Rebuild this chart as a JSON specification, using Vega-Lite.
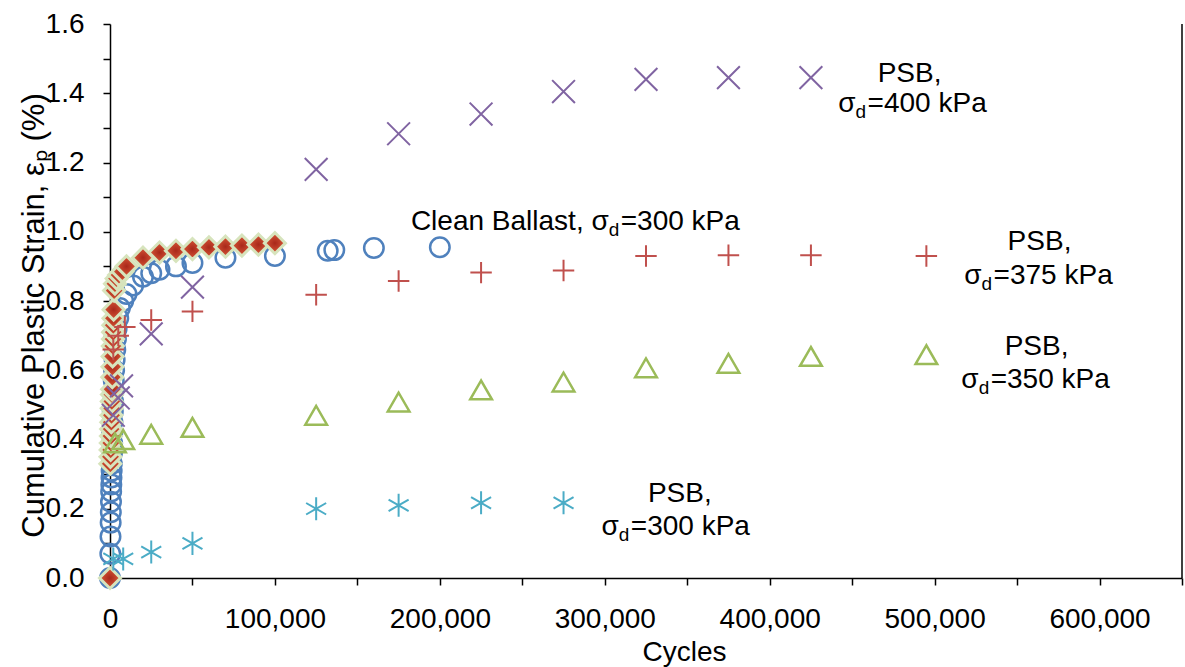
{
  "$schema": "https://vega.github.io/schema/vega-lite/v6.json",
  "width": 1072,
  "height": 554,
  "autosize": {"type": "none"},
  "padding": {"left": 110, "top": 24, "right": 3, "bottom": 89},
  "background": "white",
  "config": {
    "view": {"stroke": null},
    "font": "Liberation Sans",
    "axis": {"grid": false, "domainColor": "black", "tickColor": "black", "labelColor": "black", "titleColor": "black", "domainWidth": 1.5, "tickWidth": 1.5, "labelFont": "Liberation Sans", "titleFont": "Liberation Sans", "labelFontSize": 28, "titleFontSize": 28, "titleFontWeight": "normal"}
  },
  "datasets": {
    "pts": [
      {"s": "CB", "x": 0, "y": 0}, {"s": "CB", "x": 200, "y": 0.07}, {"s": "CB", "x": 300, "y": 0.12}, {"s": "CB", "x": 400, "y": 0.16}, {"s": "CB", "x": 500, "y": 0.19}, {"s": "CB", "x": 600, "y": 0.22}, {"s": "CB", "x": 700, "y": 0.25}, {"s": "CB", "x": 800, "y": 0.27}, {"s": "CB", "x": 900, "y": 0.29}, {"s": "CB", "x": 1000, "y": 0.31}, {"s": "CB", "x": 1100, "y": 0.33}, {"s": "CB", "x": 1200, "y": 0.36}, {"s": "CB", "x": 1300, "y": 0.39}, {"s": "CB", "x": 1400, "y": 0.42}, {"s": "CB", "x": 1500, "y": 0.45}, {"s": "CB", "x": 1700, "y": 0.48}, {"s": "CB", "x": 1900, "y": 0.51}, {"s": "CB", "x": 2100, "y": 0.54}, {"s": "CB", "x": 2300, "y": 0.57}, {"s": "CB", "x": 2500, "y": 0.6}, {"s": "CB", "x": 2800, "y": 0.63}, {"s": "CB", "x": 3200, "y": 0.66}, {"s": "CB", "x": 3600, "y": 0.69}, {"s": "CB", "x": 4000, "y": 0.72}, {"s": "CB", "x": 5000, "y": 0.75}, {"s": "CB", "x": 6000, "y": 0.78}, {"s": "CB", "x": 8000, "y": 0.8}, {"s": "CB", "x": 10000, "y": 0.82}, {"s": "CB", "x": 14000, "y": 0.845}, {"s": "CB", "x": 20000, "y": 0.87}, {"s": "CB", "x": 25000, "y": 0.88}, {"s": "CB", "x": 30000, "y": 0.89}, {"s": "CB", "x": 40000, "y": 0.9}, {"s": "CB", "x": 50000, "y": 0.91}, {"s": "CB", "x": 70000, "y": 0.925}, {"s": "CB", "x": 100000, "y": 0.93}, {"s": "CB", "x": 132000, "y": 0.945}, {"s": "CB", "x": 136000, "y": 0.947}, {"s": "CB", "x": 160000, "y": 0.953}, {"s": "CB", "x": 200000, "y": 0.955},
      {"s": "D", "x": 0, "y": 0}, {"s": "D", "x": 200, "y": 0.33}, {"s": "D", "x": 300, "y": 0.35}, {"s": "D", "x": 400, "y": 0.37}, {"s": "D", "x": 500, "y": 0.39}, {"s": "D", "x": 600, "y": 0.41}, {"s": "D", "x": 700, "y": 0.43}, {"s": "D", "x": 800, "y": 0.45}, {"s": "D", "x": 900, "y": 0.47}, {"s": "D", "x": 1000, "y": 0.49}, {"s": "D", "x": 1100, "y": 0.51}, {"s": "D", "x": 1200, "y": 0.53}, {"s": "D", "x": 1300, "y": 0.545}, {"s": "D", "x": 1400, "y": 0.58}, {"s": "D", "x": 1500, "y": 0.61}, {"s": "D", "x": 1600, "y": 0.64}, {"s": "D", "x": 1700, "y": 0.67}, {"s": "D", "x": 1800, "y": 0.69}, {"s": "D", "x": 1900, "y": 0.71}, {"s": "D", "x": 2000, "y": 0.73}, {"s": "D", "x": 2100, "y": 0.75}, {"s": "D", "x": 2200, "y": 0.775}, {"s": "D", "x": 2500, "y": 0.83}, {"s": "D", "x": 3000, "y": 0.85}, {"s": "D", "x": 4000, "y": 0.865}, {"s": "D", "x": 5500, "y": 0.875}, {"s": "D", "x": 7500, "y": 0.885}, {"s": "D", "x": 10000, "y": 0.9}, {"s": "D", "x": 20000, "y": 0.925}, {"s": "D", "x": 30000, "y": 0.94}, {"s": "D", "x": 40000, "y": 0.945}, {"s": "D", "x": 50000, "y": 0.95}, {"s": "D", "x": 60000, "y": 0.955}, {"s": "D", "x": 70000, "y": 0.957}, {"s": "D", "x": 80000, "y": 0.96}, {"s": "D", "x": 90000, "y": 0.963}, {"s": "D", "x": 100000, "y": 0.967},
      {"s": "P400", "x": 2000, "y": 0.47}, {"s": "P400", "x": 5000, "y": 0.52}, {"s": "P400", "x": 7000, "y": 0.555}, {"s": "P400", "x": 25000, "y": 0.705}, {"s": "P400", "x": 50000, "y": 0.84}, {"s": "P400", "x": 125000, "y": 1.18}, {"s": "P400", "x": 175000, "y": 1.283}, {"s": "P400", "x": 225000, "y": 1.34}, {"s": "P400", "x": 275000, "y": 1.405}, {"s": "P400", "x": 325000, "y": 1.44}, {"s": "P400", "x": 375000, "y": 1.445}, {"s": "P400", "x": 425000, "y": 1.445},
      {"s": "P375", "x": 2000, "y": 0.66}, {"s": "P375", "x": 5000, "y": 0.7}, {"s": "P375", "x": 9000, "y": 0.725}, {"s": "P375", "x": 25000, "y": 0.745}, {"s": "P375", "x": 50000, "y": 0.77}, {"s": "P375", "x": 125000, "y": 0.818}, {"s": "P375", "x": 175000, "y": 0.858}, {"s": "P375", "x": 225000, "y": 0.882}, {"s": "P375", "x": 275000, "y": 0.888}, {"s": "P375", "x": 325000, "y": 0.93}, {"s": "P375", "x": 375000, "y": 0.932}, {"s": "P375", "x": 425000, "y": 0.932}, {"s": "P375", "x": 495000, "y": 0.93},
      {"s": "P350", "x": 3000, "y": 0.39}, {"s": "P350", "x": 8000, "y": 0.4}, {"s": "P350", "x": 25000, "y": 0.415}, {"s": "P350", "x": 50000, "y": 0.435}, {"s": "P350", "x": 125000, "y": 0.47}, {"s": "P350", "x": 175000, "y": 0.508}, {"s": "P350", "x": 225000, "y": 0.543}, {"s": "P350", "x": 275000, "y": 0.566}, {"s": "P350", "x": 325000, "y": 0.607}, {"s": "P350", "x": 375000, "y": 0.62}, {"s": "P350", "x": 425000, "y": 0.64}, {"s": "P350", "x": 495000, "y": 0.645},
      {"s": "P300", "x": 2000, "y": 0.055}, {"s": "P300", "x": 8000, "y": 0.055}, {"s": "P300", "x": 25000, "y": 0.075}, {"s": "P300", "x": 50000, "y": 0.1}, {"s": "P300", "x": 125000, "y": 0.2}, {"s": "P300", "x": 175000, "y": 0.21}, {"s": "P300", "x": 225000, "y": 0.217}, {"s": "P300", "x": 275000, "y": 0.217}
    ],
    "labels": [
      {"k": "c", "x": 484800, "y": 1.4335, "t": "PSB,"},
      {"k": "c", "x": 563600, "y": 0.946, "t": "PSB,"},
      {"k": "c", "x": 561800, "y": 0.6445, "t": "PSB,"},
      {"k": "c", "x": 345500, "y": 0.2205, "t": "PSB,"},
      {"k": "a", "x": 452100, "y": 1.3468, "pre": "σ", "post": "=400 kPa"},
      {"k": "a", "x": 528500, "y": 0.8497, "pre": "σ", "post": "=375 kPa"},
      {"k": "a", "x": 526700, "y": 0.549, "pre": "σ", "post": "=350 kPa"},
      {"k": "a", "x": 308500, "y": 0.1243, "pre": "σ", "post": "=300 kPa"},
      {"k": "a", "x": 302400, "y": 1.0058, "pre": "Clean Ballast, σ", "post": "=300 kPa"}
    ],
    "frame": [{"x": 650000, "y": 0, "y2": 1.6}]
  },
  "encoding": {
    "x": {"field": "x", "type": "quantitative", "scale": {"domain": [0, 650000], "nice": false, "zero": false},
      "axis": {"values": [0, 50000, 100000, 150000, 200000, 250000, 300000, 350000, 400000, 450000, 500000, 550000, 600000, 650000],
        "labelExpr": "datum.value % 100000 === 0 ? format(datum.value, ',') : ''", "tickSize": 7, "labelPadding": 20, "labelOverlap": false, "labelFlush": false,
        "title": "Cycles", "titleX": 574, "titleY": 74, "titleBaseline": "middle", "titleAnchor": "middle"}},
    "y": {"field": "y", "type": "quantitative", "scale": {"domain": [0, 1.6], "nice": false, "zero": false},
      "axis": {"values": [0, 0.1, 0.2, 0.3, 0.4, 0.5, 0.6, 0.7, 0.8, 0.9, 1.0, 1.1, 1.2, 1.3, 1.4, 1.5, 1.6],
        "labelExpr": "round(datum.value * 10) % 2 === 0 ? format(datum.value, '.1f') : ''", "tickSize": 7, "labelPadding": 19, "labelOverlap": false, "labelFlush": false,
        "title": "Cumulative Plastic Strain, εₚ (%)", "titleFontSize": 31, "titleX": -76, "titleY": 291, "titleAngle": -90, "titleBaseline": "middle", "titleAnchor": "middle"}}
  },
  "layer": [
    {"data": {"name": "frame"}, "mark": {"type": "rule", "color": "black", "strokeWidth": 1.5}, "encoding": {"y2": {"field": "y2"}}},
    {"data": {"name": "pts"}, "transform": [{"filter": "datum.s === 'CB'"}],
      "mark": {"type": "point", "shape": "circle", "filled": false, "color": "#4F81BD", "strokeWidth": 2.5, "size": 380, "opacity": 1}},
    {"data": {"name": "pts"}, "transform": [{"filter": "datum.s === 'D'"}],
      "mark": {"type": "point", "shape": "diamond", "filled": true,
        "fill": {"gradient": "radial", "x1": 0.5, "y1": 0.5, "r1": 0, "x2": 0.5, "y2": 0.5, "r2": 0.6, "stops": [{"offset": 0, "color": "#A8281A"}, {"offset": 1, "color": "#E2623E"}]},
        "stroke": "#D7E4BD", "strokeWidth": 3, "size": 440, "opacity": 1}},
    {"data": {"name": "pts"}, "transform": [{"filter": "datum.s === 'P400'"}],
      "mark": {"type": "point", "shape": "M-1,-1L1,1M-1,1L1,-1", "filled": false, "color": "#8064A2", "strokeWidth": 2, "size": 520, "opacity": 1}},
    {"data": {"name": "pts"}, "transform": [{"filter": "datum.s === 'P375'"}],
      "mark": {"type": "point", "shape": "M-1,0L1,0M0,-1L0,1", "filled": false, "color": "#C0504D", "strokeWidth": 2, "size": 460, "opacity": 1}},
    {"data": {"name": "pts"}, "transform": [{"filter": "datum.s === 'P350'"}],
      "mark": {"type": "point", "shape": "triangle-up", "filled": false, "color": "#9BBB59", "strokeWidth": 2.5, "size": 470, "opacity": 1}},
    {"data": {"name": "pts"}, "transform": [{"filter": "datum.s === 'P300'"}],
      "mark": {"type": "point", "shape": "M0,-1L0,1M-0.87,-0.5L0.87,0.5M-0.87,0.5L0.87,-0.5", "filled": false, "color": "#4BACC6", "strokeWidth": 2, "size": 530, "opacity": 1}},
    {"data": {"name": "labels"}, "transform": [{"filter": "datum.k === 'c'"}],
      "mark": {"type": "text", "align": "center", "baseline": "alphabetic", "fontSize": 28, "color": "black", "font": "Liberation Sans"},
      "encoding": {"text": {"field": "t"}}},
    {"data": {"name": "labels"}, "transform": [{"filter": "datum.k === 'a'"}],
      "mark": {"type": "text", "align": "right", "baseline": "alphabetic", "fontSize": 28, "color": "black", "font": "Liberation Sans"},
      "encoding": {"text": {"field": "pre"}}},
    {"data": {"name": "labels"}, "transform": [{"filter": "datum.k === 'a'"}],
      "mark": {"type": "text", "align": "left", "baseline": "alphabetic", "fontSize": 19, "dy": 6, "color": "black", "font": "Liberation Sans"},
      "encoding": {"text": {"value": "d"}}},
    {"data": {"name": "labels"}, "transform": [{"filter": "datum.k === 'a'"}],
      "mark": {"type": "text", "align": "left", "baseline": "alphabetic", "fontSize": 28, "dx": 12, "color": "black", "font": "Liberation Sans"},
      "encoding": {"text": {"field": "post"}}}
  ]
}
